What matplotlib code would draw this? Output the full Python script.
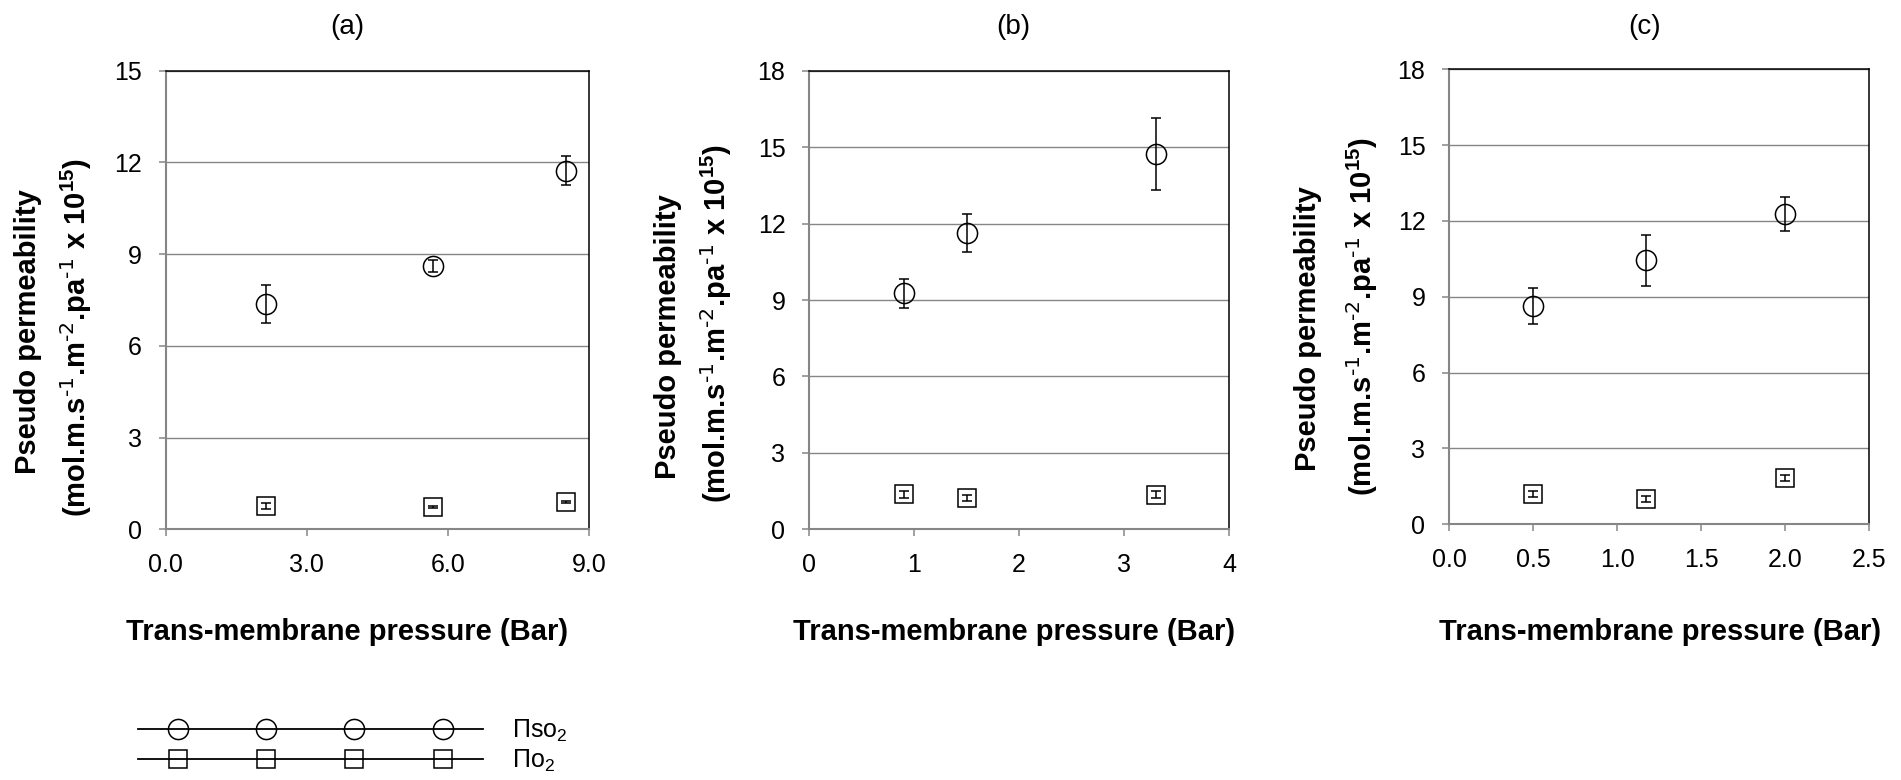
import matplotlib
matplotlib.use('Agg')
import matplotlib.pyplot as plt
from matplotlib.lines import Line2D
from matplotlib.legend_handler import HandlerLine2D, HandlerTuple

plt.rcParams['font.family'] = ['Liberation Sans', 'DejaVu Sans']
plt.rcParams['mathtext.default'] = 'regular'

# data
# (a)
a_x = [2.13, 5.68, 8.52]
a_so2 = [7.37, 8.62, 11.73]
a_so2_err = [0.62, 0.20, 0.47]
a_o2 = [0.76, 0.74, 0.89]
a_o2_err = [0.10, 0.03, 0.03]
# (b)
b_x = [0.90, 1.50, 3.30]
b_so2 = [9.26, 11.63, 14.73]
b_so2_err = [0.58, 0.75, 1.43]
b_o2 = [1.37, 1.24, 1.35]
b_o2_err = [0.13, 0.12, 0.14]
# (c)
c_x = [0.50, 1.17, 2.00]
c_so2 = [8.64, 10.44, 12.27]
c_so2_err = [0.70, 1.00, 0.68]
c_o2 = [1.19, 0.99, 1.82]
c_o2_err = [0.12, 0.12, 0.12]

a_xticks = [0, 3, 6, 9]
a_xlabels = ['0.0', '3.0', '6.0', '9.0']
a_yticks = [0, 3, 6, 9, 12, 15]
b_xticks = [0, 1, 2, 3, 4]
b_xlabels = ['0', '1', '2', '3', '4']
b_yticks = [0, 3, 6, 9, 12, 15, 18]
c_xticks = [0, 0.5, 1.0, 1.5, 2.0, 2.5]
c_xlabels = ['0.0', '0.5', '1.0', '1.5', '2.0', '2.5']
c_yticks = [0, 3, 6, 9, 12, 15, 18]

titles = ['(a)', '(b)', '(c)']
xlab = 'Trans-membrane pressure (Bar)'
ylab1 = 'Pseudo permeability'
ylab2 = '(mol.m.s$^{\\text{-1}}$.m$^{\\text{-2}}$.pa$^{\\text{-1}}$ x 10$^{15}$)'
leg_labels = ['\u03a0so$_2$', '\u03a0o$_2$']

W, H = 1901, 780
fig = plt.figure(figsize=(W / 100, H / 100), dpi=100)

def fx(px):
    return px / W

def fy(py):
    return 1 - py / H

grey = '#868686'

panels = [
    dict(box=(165.7, 589, 70.7, 529.3), x=a_x, so2=a_so2, so2e=a_so2_err, o2=a_o2, o2e=a_o2_err,
         xt=a_xticks, xl=a_xlabels, yt=a_yticks, cx=347.5, tx=347.5, yl=(28.3, 332, 76, 337.5)),
    dict(box=(809, 1229, 70.7, 529.3), x=b_x, so2=b_so2, so2e=b_so2_err, o2=b_o2, o2e=b_o2_err,
         xt=b_xticks, xl=b_xlabels, yt=b_yticks, cx=1014, tx=1013, yl=(668.3, 337, 716, 324)),
    dict(box=(1449, 1869.3, 69.3, 524.3), x=c_x, so2=c_so2, so2e=c_so2_err, o2=c_o2, o2e=c_o2_err,
         xt=c_xticks, xl=c_xlabels, yt=c_yticks, cx=1660.5, tx=1645, yl=(1308.3, 329, 1362, 316.5)),
]

for i, p in enumerate(panels):
    l, r, t, b = p['box']
    ax = fig.add_axes([fx(l), fy(b), fx(r - l), (b - t) / H])
    ax.errorbar(p['x'], p['so2'], yerr=p['so2e'], fmt='o', ms=14.5, mfc='none', mec='black', mew=1.1,
                ecolor='black', elinewidth=1.1, capsize=3.6, capthick=1.1, clip_on=False, zorder=3)
    ax.errorbar(p['x'], p['o2'], yerr=p['o2e'], fmt='s', ms=13.5, mfc='none', mec='black', mew=1.1,
                ecolor='black', elinewidth=1.1, capsize=3.6, capthick=1.1, clip_on=False, zorder=3)
    ax.set_xlim(p['xt'][0], p['xt'][-1])
    ax.set_ylim(p['yt'][0], p['yt'][-1])
    ax.set_xticks(p['xt'])
    ax.set_xticklabels(p['xl'])
    ax.set_yticks(p['yt'])
    ax.yaxis.grid(True, color=grey, lw=1.0)
    ax.set_axisbelow(True)
    for s in ['top', 'right']:
        ax.spines[s].set_color('black')
        ax.spines[s].set_linewidth(1.1)
    for s in ['left', 'bottom']:
        ax.spines[s].set_color(grey)
        ax.spines[s].set_linewidth(1.5)
    ax.tick_params(direction='out', length=5, width=1.1, color=grey, labelsize=18, pad=12)

    fig.text(fx(p['tx']), fy(26.7), titles[i], ha='center', va='center', fontsize=20)
    fig.text(fx(p['cx']), fy(632), xlab, ha='center', va='center', fontsize=21, fontweight='bold')
    x1, y1, x2, y2 = p['yl']
    fig.text(fx(x1), fy(y1), ylab1, rotation=90, ha='center', va='center', fontsize=21, fontweight='bold')
    fig.text(fx(x2), fy(y2), ylab2, rotation=90, ha='center', va='center', fontsize=21, fontweight='bold')

# legend: long line with four markers on it
line_h = Line2D([], [], color='black', lw=1.3)
mk1 = Line2D([], [], ls='none', marker='o', ms=14.5, mfc='none', mec='black', mew=1.1)
mk2 = Line2D([], [], ls='none', marker='s', ms=13.5, mfc='none', mec='black', mew=1.1)
fig.legend([(line_h, mk1), (line_h, mk2)], leg_labels, loc='center left',
           bbox_to_anchor=(fx(137.5), fy(746)),
           frameon=False, fontsize=18, handlelength=13.8, handletextpad=1.2, labelspacing=0.17,
           borderpad=0, borderaxespad=0,
           handler_map={mk1: HandlerLine2D(numpoints=4, marker_pad=1.6),
                        mk2: HandlerLine2D(numpoints=4, marker_pad=1.6),
                        tuple: HandlerTuple(ndivide=1)})

fig.savefig('out.png', dpi=100)
